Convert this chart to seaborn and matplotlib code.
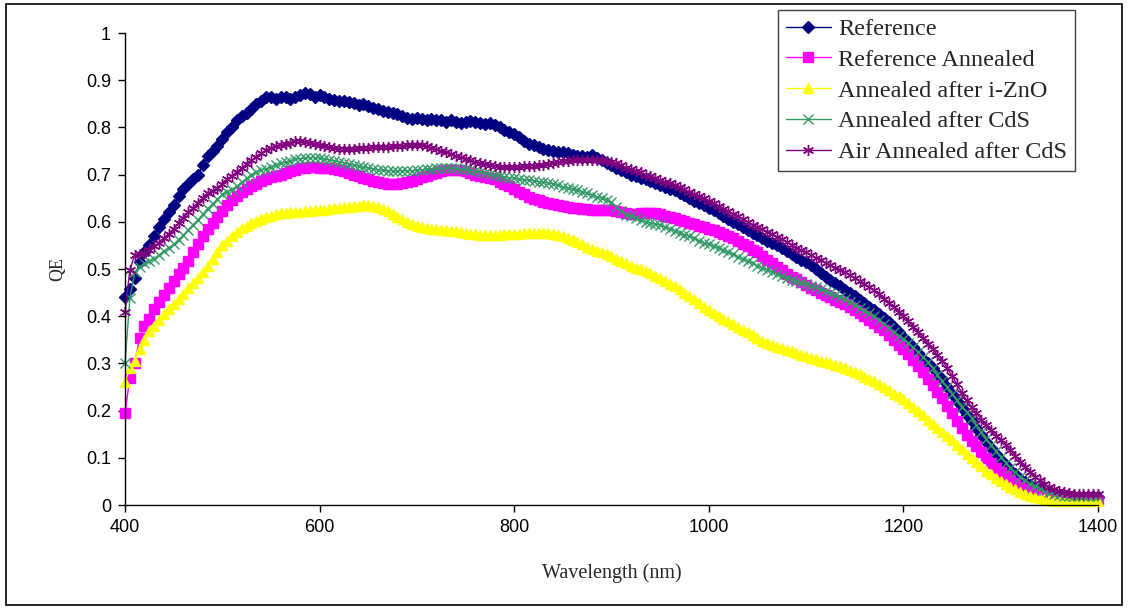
import numpy as np
import pandas as pd
import matplotlib
matplotlib.use("Agg")
import matplotlib.pyplot as plt
from matplotlib.patches import Rectangle
import seaborn as sns

# wavelength grid of the measurement (nm)
wavelength = list(range(400, 1405, 5))

reference = [
    0.440, 0.457, 0.480, 0.515, 0.535, 0.550, 0.570, 0.590, 0.605, 0.620,
    0.635, 0.655, 0.670, 0.680, 0.690, 0.700, 0.720, 0.740, 0.750, 0.760,
    0.775, 0.790, 0.800, 0.815, 0.825, 0.830, 0.840, 0.850, 0.855, 0.865,
    0.865, 0.860, 0.865, 0.865, 0.860, 0.865, 0.868, 0.872, 0.870, 0.865,
    0.868, 0.865, 0.860, 0.858, 0.855, 0.855, 0.853, 0.852, 0.848, 0.850,
    0.845, 0.842, 0.838, 0.835, 0.832, 0.830, 0.828, 0.825, 0.820, 0.818,
    0.820, 0.817, 0.815, 0.818, 0.815, 0.815, 0.812, 0.816, 0.812, 0.810,
    0.812, 0.814, 0.812, 0.810, 0.808, 0.810, 0.805, 0.800, 0.795, 0.790,
    0.785, 0.780, 0.772, 0.765, 0.762, 0.758, 0.755, 0.752, 0.750, 0.748,
    0.747, 0.745, 0.742, 0.740, 0.740, 0.738, 0.742, 0.735, 0.730, 0.725,
    0.720, 0.715, 0.710, 0.706, 0.700, 0.697, 0.693, 0.690, 0.686, 0.682,
    0.678, 0.674, 0.670, 0.667, 0.662, 0.656, 0.650, 0.645, 0.640, 0.635,
    0.630, 0.625, 0.618, 0.612, 0.606, 0.600, 0.595, 0.589, 0.583, 0.577,
    0.571, 0.565, 0.560, 0.555, 0.550, 0.544, 0.538, 0.532, 0.526, 0.520,
    0.515, 0.508, 0.500, 0.492, 0.484, 0.477, 0.470, 0.463, 0.456, 0.449,
    0.442, 0.435, 0.428, 0.420, 0.413, 0.405, 0.397, 0.388, 0.378, 0.367,
    0.356, 0.345, 0.334, 0.322, 0.310, 0.300, 0.290, 0.278, 0.266, 0.250,
    0.235, 0.220, 0.205, 0.190, 0.178, 0.163, 0.148, 0.134, 0.120, 0.107,
    0.096, 0.085, 0.075, 0.065, 0.056, 0.048, 0.042, 0.037, 0.033, 0.028,
    0.025, 0.022, 0.020, 0.019, 0.018, 0.018, 0.018, 0.018, 0.018, 0.018,
    0.018,
]

ref_annealed = [
    0.195, 0.270, 0.300, 0.354, 0.380, 0.395, 0.415, 0.430, 0.445, 0.460,
    0.475, 0.490, 0.503, 0.518, 0.535, 0.553, 0.570, 0.585, 0.598, 0.610,
    0.622, 0.635, 0.646, 0.655, 0.663, 0.670, 0.675, 0.680, 0.686, 0.690,
    0.694, 0.697, 0.700, 0.703, 0.707, 0.710, 0.713, 0.715, 0.716, 0.716,
    0.715, 0.714, 0.713, 0.711, 0.709, 0.707, 0.704, 0.700, 0.697, 0.693,
    0.690, 0.687, 0.684, 0.682, 0.681, 0.681, 0.681, 0.682, 0.684, 0.687,
    0.690, 0.694, 0.698, 0.701, 0.704, 0.707, 0.709, 0.710, 0.710, 0.709,
    0.707, 0.704, 0.700, 0.697, 0.694, 0.692, 0.690, 0.685, 0.680, 0.675,
    0.669, 0.663, 0.658, 0.653, 0.649, 0.646, 0.643, 0.640, 0.637, 0.635,
    0.633, 0.631, 0.630, 0.629, 0.628, 0.627, 0.626, 0.626, 0.625, 0.625,
    0.624, 0.622, 0.620, 0.618, 0.617, 0.617, 0.618, 0.619, 0.619, 0.618,
    0.616, 0.613, 0.610, 0.607, 0.604, 0.601, 0.598, 0.595, 0.592, 0.588,
    0.585, 0.582, 0.578, 0.574, 0.570, 0.565, 0.560, 0.554, 0.548, 0.541,
    0.535, 0.528, 0.520, 0.512, 0.504, 0.497, 0.490, 0.484, 0.478, 0.472,
    0.466, 0.460, 0.455, 0.450, 0.445, 0.440, 0.435, 0.430, 0.425, 0.419,
    0.413, 0.407, 0.400, 0.393, 0.386, 0.378, 0.370, 0.360, 0.350, 0.340,
    0.330, 0.320, 0.308, 0.295, 0.282, 0.268, 0.254, 0.240, 0.226, 0.210,
    0.194, 0.178, 0.163, 0.149, 0.136, 0.124, 0.112, 0.100, 0.089, 0.079,
    0.070, 0.062, 0.054, 0.046, 0.039, 0.033, 0.028, 0.024, 0.020, 0.017,
    0.015, 0.013, 0.012, 0.011, 0.010, 0.010, 0.010, 0.010, 0.010, 0.010,
    0.010,
]

after_izno = [
    0.260, 0.290, 0.305, 0.330, 0.350, 0.368, 0.380, 0.392, 0.405, 0.415,
    0.425, 0.437, 0.448, 0.460, 0.470, 0.480, 0.493, 0.507, 0.522, 0.536,
    0.550, 0.560, 0.570, 0.578, 0.586, 0.592, 0.597, 0.602, 0.606, 0.610,
    0.613, 0.616, 0.618, 0.619, 0.620, 0.620, 0.621, 0.622, 0.623, 0.624,
    0.625, 0.626, 0.627, 0.629, 0.630, 0.631, 0.632, 0.633, 0.634, 0.635,
    0.635, 0.634, 0.632, 0.628, 0.623, 0.617, 0.611, 0.605, 0.600, 0.596,
    0.592, 0.589, 0.587, 0.585, 0.584, 0.583, 0.582, 0.581, 0.580, 0.578,
    0.576, 0.575, 0.574, 0.573, 0.573, 0.573, 0.573, 0.573, 0.574, 0.574,
    0.575, 0.575, 0.576, 0.576, 0.577, 0.577, 0.577, 0.576, 0.575, 0.572,
    0.569, 0.565, 0.561, 0.557, 0.552, 0.547, 0.543, 0.539, 0.535, 0.531,
    0.527, 0.522, 0.517, 0.512, 0.507, 0.503, 0.499, 0.495, 0.491, 0.486,
    0.480, 0.475, 0.469, 0.464, 0.457, 0.450, 0.443, 0.436, 0.428, 0.420,
    0.413, 0.407, 0.401, 0.395, 0.389, 0.383, 0.377, 0.371, 0.366, 0.360,
    0.354, 0.348, 0.343, 0.339, 0.335, 0.332, 0.329, 0.326, 0.322, 0.318,
    0.315, 0.312, 0.309, 0.306, 0.303, 0.300, 0.297, 0.294, 0.290, 0.286,
    0.282, 0.277, 0.272, 0.267, 0.262, 0.256, 0.250, 0.243, 0.236, 0.230,
    0.225, 0.216, 0.208, 0.199, 0.190, 0.181, 0.172, 0.163, 0.155, 0.146,
    0.137, 0.127, 0.118, 0.109, 0.100, 0.091, 0.082, 0.073, 0.065, 0.057,
    0.050, 0.044, 0.038, 0.033, 0.028, 0.024, 0.020, 0.017, 0.015, 0.012,
    0.010, 0.009, 0.008, 0.008, 0.008, 0.008, 0.008, 0.008, 0.008, 0.008,
    0.008,
]

after_cds = [
    0.300, 0.438, 0.494, 0.505, 0.512, 0.516, 0.522, 0.530, 0.538, 0.545,
    0.552, 0.562, 0.572, 0.583, 0.594, 0.604, 0.616, 0.628, 0.638, 0.648,
    0.658, 0.664, 0.668, 0.676, 0.684, 0.692, 0.700, 0.706, 0.710, 0.712,
    0.716, 0.720, 0.724, 0.726, 0.729, 0.732, 0.734, 0.735, 0.736, 0.736,
    0.735, 0.733, 0.731, 0.729, 0.727, 0.725, 0.722, 0.720, 0.718, 0.716,
    0.714, 0.712, 0.710, 0.709, 0.708, 0.708, 0.708, 0.708, 0.708, 0.708,
    0.709, 0.710, 0.711, 0.712, 0.713, 0.714, 0.714, 0.714, 0.713, 0.712,
    0.711, 0.709, 0.707, 0.705, 0.703, 0.701, 0.699, 0.697, 0.695, 0.693,
    0.692, 0.690, 0.689, 0.688, 0.687, 0.685, 0.684, 0.682, 0.680, 0.677,
    0.674, 0.671, 0.669, 0.667, 0.664, 0.660, 0.656, 0.653, 0.650, 0.646,
    0.642, 0.632, 0.622, 0.615, 0.612, 0.607, 0.603, 0.600, 0.597, 0.595,
    0.593, 0.589, 0.585, 0.581, 0.577, 0.573, 0.569, 0.565, 0.560, 0.556,
    0.552, 0.548, 0.544, 0.540, 0.535, 0.531, 0.526, 0.522, 0.517, 0.512,
    0.507, 0.503, 0.498, 0.494, 0.489, 0.485, 0.481, 0.477, 0.474, 0.471,
    0.468, 0.465, 0.461, 0.457, 0.453, 0.449, 0.445, 0.441, 0.436, 0.430,
    0.424, 0.418, 0.412, 0.406, 0.400, 0.392, 0.384, 0.375, 0.366, 0.359,
    0.352, 0.343, 0.334, 0.324, 0.313, 0.302, 0.290, 0.276, 0.262, 0.249,
    0.236, 0.222, 0.208, 0.196, 0.185, 0.170, 0.155, 0.140, 0.127, 0.114,
    0.102, 0.090, 0.079, 0.069, 0.060, 0.052, 0.045, 0.040, 0.036, 0.031,
    0.027, 0.024, 0.022, 0.020, 0.020, 0.020, 0.020, 0.020, 0.020, 0.020,
    0.020,
]

air_after_cds = [
    0.409, 0.498, 0.530, 0.532, 0.534, 0.540, 0.548, 0.556, 0.565, 0.575,
    0.585, 0.597, 0.608, 0.620, 0.630, 0.640, 0.650, 0.660, 0.665, 0.672,
    0.680, 0.690, 0.698, 0.706, 0.714, 0.722, 0.730, 0.738, 0.745, 0.752,
    0.757, 0.760, 0.763, 0.765, 0.768, 0.772, 0.772, 0.770, 0.768, 0.765,
    0.762, 0.760, 0.758, 0.756, 0.755, 0.754, 0.754, 0.755, 0.756, 0.756,
    0.757, 0.758, 0.758, 0.758, 0.759, 0.760, 0.760, 0.761, 0.762, 0.762,
    0.762, 0.762, 0.760, 0.757, 0.755, 0.750, 0.748, 0.744, 0.740, 0.737,
    0.733, 0.730, 0.727, 0.724, 0.722, 0.720, 0.718, 0.716, 0.716, 0.716,
    0.716, 0.717, 0.718, 0.718, 0.719, 0.720, 0.720, 0.722, 0.724, 0.726,
    0.728, 0.729, 0.730, 0.731, 0.731, 0.731, 0.730, 0.730, 0.730, 0.728,
    0.727, 0.725, 0.720, 0.715, 0.712, 0.708, 0.705, 0.700, 0.696, 0.692,
    0.688, 0.685, 0.682, 0.678, 0.674, 0.669, 0.664, 0.659, 0.654, 0.650,
    0.645, 0.640, 0.634, 0.628, 0.622, 0.617, 0.612, 0.606, 0.600, 0.594,
    0.589, 0.584, 0.579, 0.574, 0.568, 0.563, 0.557, 0.551, 0.545, 0.540,
    0.535, 0.530, 0.524, 0.519, 0.513, 0.508, 0.503, 0.498, 0.493, 0.487,
    0.481, 0.475, 0.468, 0.462, 0.455, 0.446, 0.437, 0.428, 0.419, 0.409,
    0.400, 0.390, 0.378, 0.366, 0.354, 0.342, 0.330, 0.318, 0.306, 0.290,
    0.274, 0.256, 0.238, 0.222, 0.208, 0.195, 0.181, 0.170, 0.158, 0.147,
    0.137, 0.128, 0.116, 0.104, 0.092, 0.081, 0.070, 0.060, 0.052, 0.045,
    0.038, 0.033, 0.029, 0.027, 0.025, 0.024, 0.024, 0.024, 0.024, 0.024,
    0.024,
]

labels = ["Reference", "Reference Annealed", "Annealed after i-ZnO",
          "Annealed after CdS", "Air Annealed after CdS"]
series = [reference, ref_annealed, after_izno, after_cds, air_after_cds]
colors = ["#000080", "#FF00FF", "#FFFF00", "#339966", "#800080"]
markers = ["D", "s", "^", "x", (6, 2, 0)]
msizes = [6.5, 6.5, 7.5, 7, 8]

x_ticks = [400, 600, 800, 1000, 1200, 1400]
y_ticks = [0, 0.1, 0.2, 0.3, 0.4, 0.5, 0.6, 0.7, 0.8, 0.9, 1]
y_ticklabels = ["0", "0.1", "0.2", "0.3", "0.4", "0.5", "0.6", "0.7", "0.8", "0.9", "1"]

for s in series:
    assert len(s) == len(wavelength)

sns.set_style("ticks")
plt.rcParams['font.family'] = ['Liberation Sans', 'DejaVu Sans']

fig = plt.figure(figsize=(11.31, 6.09), dpi=100)
ax = fig.add_axes([125 / 1131, 1 - 505 / 609, 973 / 1131, 472 / 609])

for lab, vals, col, mk, ms in zip(labels, series, colors, markers, msizes):
    df = pd.DataFrame({"Wavelength": wavelength, "QE": vals})
    sns.lineplot(data=df, x="Wavelength", y="QE", ax=ax, color=col, marker=mk,
                 markersize=ms, markeredgecolor=col, markeredgewidth=1.0,
                 linewidth=1.0, label=lab, clip_on=False)

ax.set_xlim(400, 1400)
ax.set_ylim(0, 1)
ax.set_xticks(x_ticks)
ax.set_yticks(y_ticks)
ax.set_yticklabels(y_ticklabels)
ax.tick_params(axis="both", direction="out", length=5, width=1, colors="black",
               labelsize=13, pad=5)
sns.despine(ax=ax)
for sp in ["left", "bottom"]:
    ax.spines[sp].set_color("black")
    ax.spines[sp].set_linewidth(1)

serif = ['Liberation Serif', 'DejaVu Serif']
ax.set_xlabel("Wavelength (nm)", family=serif, fontsize=14.5, labelpad=20)
ax.set_ylabel("QE", family=serif, fontsize=13, labelpad=14)

leg = ax.legend(loc="upper right", bbox_to_anchor=(1075 / 1131, 1 - 10 / 609),
                bbox_transform=fig.transFigure, borderaxespad=0,
                prop={"family": serif, "size": 17.5}, frameon=True, fancybox=False,
                framealpha=1, edgecolor="#404040", handlelength=1.85,
                handletextpad=0.3, labelspacing=0.36, borderpad=0.33)
leg.get_frame().set_linewidth(1)

# outer chart border
fig.patches.append(Rectangle((6 / 1131, 4 / 609), 1116 / 1131, 601 / 609,
                             transform=fig.transFigure, fill=False,
                             edgecolor="black", linewidth=1.2))

plt.savefig("out.png", dpi=100)
